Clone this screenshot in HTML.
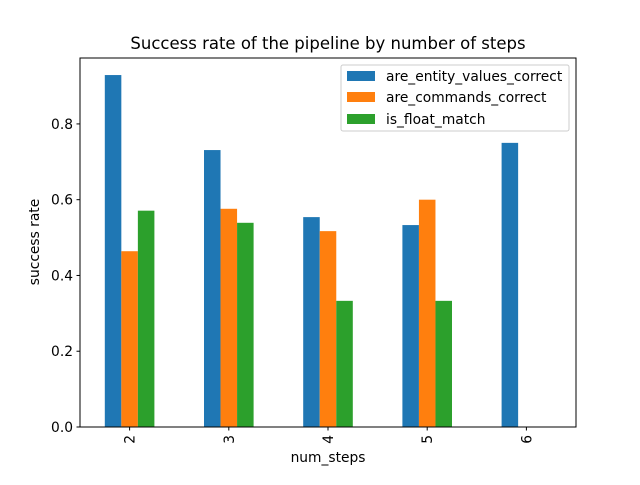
<!DOCTYPE html>
<html><head><meta charset="utf-8"><style>body{margin:0;background:#fff}svg{font-family:"DejaVu Sans","Liberation Sans",sans-serif}</style></head>
<body>
<svg id="chart" width="640" height="480" xmlns="http://www.w3.org/2000/svg">
<text x="328" y="49" text-anchor="middle" font-size="16.5">Success rate of the pipeline by number of steps</text>
<g id="plot"></g>
<rect x="80" y="58" width="496" height="369" fill="none" stroke="#000" stroke-width="1"/>
<text x="328" y="462" text-anchor="middle" font-size="13.8">num_steps</text>
<text transform="translate(39,242) rotate(-90)" text-anchor="middle" font-size="13.8">success rate</text>
<g>
<rect x="341" y="65" width="228" height="66" fill="#fff" fill-opacity="0.8" stroke="#ccc" rx="2"/>
<g><rect x="347" y="71" width="28" height="10" fill="#1f77b4"/><text x="386" y="81" font-size="13.8">are_entity_values_correct</text></g>
<g><rect x="347" y="92" width="28" height="10" fill="#ff7f0e"/><text x="386" y="102" font-size="13.8">are_commands_correct</text></g>
<g><rect x="347" y="114" width="28" height="10" fill="#2ca02c"/><text x="386" y="124" font-size="13.8">is_float_match</text></g>
</g>
</svg>
<script>
const categories = ["2","3","4","5","6"];
const entityValues = [0.929, 0.731, 0.554, 0.533, 0.75];
const commandsValues = [0.464, 0.576, 0.517, 0.6, 0];
const floatValues = [0.571, 0.539, 0.333, 0.333, 0];
const yTicks = [0.0, 0.2, 0.4, 0.6, 0.8];
const L=80,R=576,T=58,B=427,YMAX=0.974;
const ns="http://www.w3.org/2000/svg";
const g=document.getElementById('plot');
const step=(R-L)/categories.length;
function x(i){return L+step*(i+0.5);}
function y(v){return B-(v/YMAX)*(B-T);}
const series=[[entityValues,"#1f77b4","bar-entity-values"],[commandsValues,"#ff7f0e","bar-commands"],[floatValues,"#2ca02c","bar-float-match"]];
const bw=step*0.5/3;
series.forEach((s,si)=>{
  s[0].forEach((v,i)=>{
    const r=document.createElementNS(ns,'rect');
    r.setAttribute('x',x(i)-1.5*bw+si*bw);
    r.setAttribute('y',y(v));
    r.setAttribute('width',bw);
    r.setAttribute('height',B-y(v));
    r.setAttribute('fill',s[1]);
    
    
    g.appendChild(r);
  });
});
yTicks.forEach(t=>{
  const l=document.createElementNS(ns,'line');
  l.setAttribute('x1',L-3.5);l.setAttribute('x2',L);l.setAttribute('y1',y(t));l.setAttribute('y2',y(t));l.setAttribute('stroke','#000');
  
  
  g.appendChild(l);
  const tx=document.createElementNS(ns,'text');
  tx.setAttribute('x',L-7);tx.setAttribute('y',y(t)+5);tx.setAttribute('text-anchor','end');tx.setAttribute('font-size','13.8');
  tx.textContent=t.toFixed(1);
  
  
  g.appendChild(tx);
});
categories.forEach((c,i)=>{
  const l=document.createElementNS(ns,'line');
  l.setAttribute('x1',x(i));l.setAttribute('x2',x(i));l.setAttribute('y1',B);l.setAttribute('y2',B+3.5);l.setAttribute('stroke','#000');
  
  
  g.appendChild(l);
  const tx=document.createElementNS(ns,'text');
  tx.setAttribute('transform','translate('+(x(i)+5)+','+(B+8)+') rotate(-90)');
  tx.setAttribute('text-anchor','end');tx.setAttribute('font-size','13.8');
  tx.textContent=c;
  
  
  g.appendChild(tx);
});
</script>
</body></html>
